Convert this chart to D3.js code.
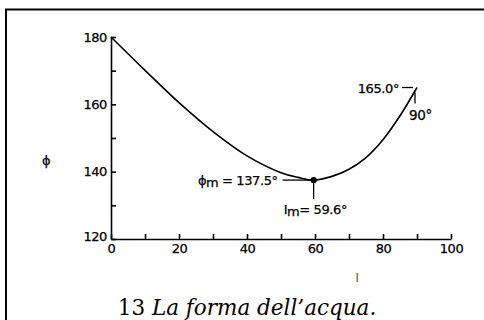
<!DOCTYPE html>
<html>
<head>
<meta charset="utf-8">
<script src="https://cdn.jsdelivr.net/npm/d3@7"></script>
<style>
	body { margin: 0; background: #fff; }
	svg { display: block; }
	.tick text, .lbl { font-family: "DejaVu Sans", sans-serif; font-size: 13px; letter-spacing: -0.4px; fill: #000; stroke: #000; stroke-width: 0.25px; }
	.caption { font-family: "DejaVu Serif", serif; font-size: 21.5px; fill: #000; }
</style>
</head>
<body>
<div id="chart"></div>
<script>
// angle of incidence I (deg) and deviation phi (deg)
var incidence = [0, 10, 20, 30, 40, 50, 55, 59.6, 65, 70, 75, 80, 85, 90];
var deviation = [180, 170.1, 160.5, 151.9, 144.7, 139.7, 138.3, 137.5, 138.6, 140.7, 144.2, 149.5, 156.6, 165];
var xTicks = [0, 10, 20, 30, 40, 50, 60, 70, 80, 90, 100];
var yTicks = [120, 130, 140, 150, 160, 170, 180];
var minimum = { i: 59.6, phi: 137.5 };
var endPoint = { i: 90, phi: 165.0 };

var width = 484, height = 320;

var svg = d3.select("#chart").append("svg")
	.attr("width", width)
	.attr("height", height);

// frame, running off the right and bottom edges
svg.append("rect")
	.attr("x", 6).attr("y", 9.5)
	.attr("width", 600).attr("height", 400)
	.attr("fill", "none")
	.attr("stroke", "#000")
	.attr("stroke-width", 2);

var x = d3.scaleLinear().domain([0, 100]).range([111, 451]);
var y = d3.scaleLinear().domain([120, 180]).range([239, 37]);

var xAxis = d3.axisBottom(x)
	.tickValues(xTicks)
	.tickSizeInner(-5)
	.tickSizeOuter(0)
	.tickPadding(5)
	.tickFormat(function(d){ return d % 20 === 0 ? d : ""; });

var yAxis = d3.axisLeft(y)
	.tickValues(yTicks)
	.tickSizeInner(-5)
	.tickSizeOuter(0)
	.tickPadding(4)
	.tickFormat(function(d){ return d % 20 === 0 ? d : ""; });

var gx = svg.append("g")
	.attr("transform", "translate(0," + y(120) + ")")
	.call(xAxis);

var gy = svg.append("g")
	.attr("transform", "translate(" + x(0) + ",0)")
	.call(yAxis);

svg.selectAll(".domain, .tick line")
	.attr("stroke", "#000")
	.attr("stroke-width", 1.6);
svg.selectAll(".tick text").attr("font-family", null).attr("font-size", null);

gy.selectAll(".tick text")
	.filter(function(d){ return d === 120; })
	.attr("dy", "0.15em");

// axis titles
svg.append("text")
	.attr("class", "lbl")
	.attr("x", 46).attr("y", 160)
	.attr("dy", "0.35em")
	.attr("text-anchor", "middle")
	.text("ϕ");

svg.append("text")
	.attr("class", "lbl")
	.attr("x", 357).attr("y", 277)
	.attr("dy", "0.35em")
	.attr("text-anchor", "middle")
	.style("fill", "#666")
	.style("stroke", "none")
	.text("I");

// curve
var pts = incidence.map(function(d, i){ return [d, deviation[i]]; });
var line = d3.line()
	.x(function(d){ return x(d[0]); })
	.y(function(d){ return y(d[1]); })
	.curve(d3.curveCatmullRom.alpha(0.5));

svg.append("path")
	.datum(pts)
	.attr("d", line)
	.attr("fill", "none")
	.attr("stroke", "#000")
	.attr("stroke-width", 1.6);

// minimum marker and leaders
var mx = x(minimum.i), my = y(minimum.phi);

svg.append("line")
	.attr("x1", mx - 31).attr("x2", mx)
	.attr("y1", my).attr("y2", my)
	.attr("stroke", "#000").attr("stroke-width", 1.3);

svg.append("line")
	.attr("x1", mx).attr("x2", mx)
	.attr("y1", my).attr("y2", my + 19)
	.attr("stroke", "#000").attr("stroke-width", 1.3);

svg.append("circle")
	.attr("cx", mx).attr("cy", my)
	.attr("r", 3.2)
	.attr("fill", "#000");

var phiLbl = svg.append("text")
	.attr("class", "lbl")
	.attr("x", mx - 36).attr("y", my + 5)
	.attr("text-anchor", "end");
phiLbl.append("tspan").text("ϕ");
phiLbl.append("tspan").attr("dy", 2).text("m");
phiLbl.append("tspan").attr("dy", -2).text(" = " + minimum.phi.toFixed(1) + "°");

var iLbl = svg.append("text")
	.attr("class", "lbl")
	.attr("x", mx - 30).attr("y", my + 34);
iLbl.append("tspan").text("I");
iLbl.append("tspan").attr("dy", 2).text("m");
iLbl.append("tspan").attr("dy", -2).text("= " + minimum.i.toFixed(1) + "°");

// end point labels
var ex = x(endPoint.i), ey = y(endPoint.phi);

svg.append("line")
	.attr("x1", ex - 15).attr("x2", ex - 4)
	.attr("y1", ey).attr("y2", ey)
	.attr("stroke", "#000").attr("stroke-width", 1.3);

svg.append("line")
	.attr("x1", ex - 2).attr("x2", ex - 2)
	.attr("y1", ey + 5).attr("y2", ey + 16)
	.attr("stroke", "#000").attr("stroke-width", 1.3);

svg.append("text")
	.attr("class", "lbl")
	.attr("x", ex - 18).attr("y", ey + 5)
	.attr("text-anchor", "end")
	.text(endPoint.phi.toFixed(1) + "°");

svg.append("text")
	.attr("class", "lbl")
	.attr("x", ex - 8).attr("y", ey + 32)
	.style("font-size", "13.5px")
	.text(endPoint.i + "°");

// caption
var cap = svg.append("text")
	.attr("class", "caption")
	.attr("x", 247).attr("y", 315)
	.attr("text-anchor", "middle");
cap.append("tspan").text("13 ");
cap.append("tspan").style("font-style", "italic").text("La forma dell’acqua.");
</script>
</body>
</html>
